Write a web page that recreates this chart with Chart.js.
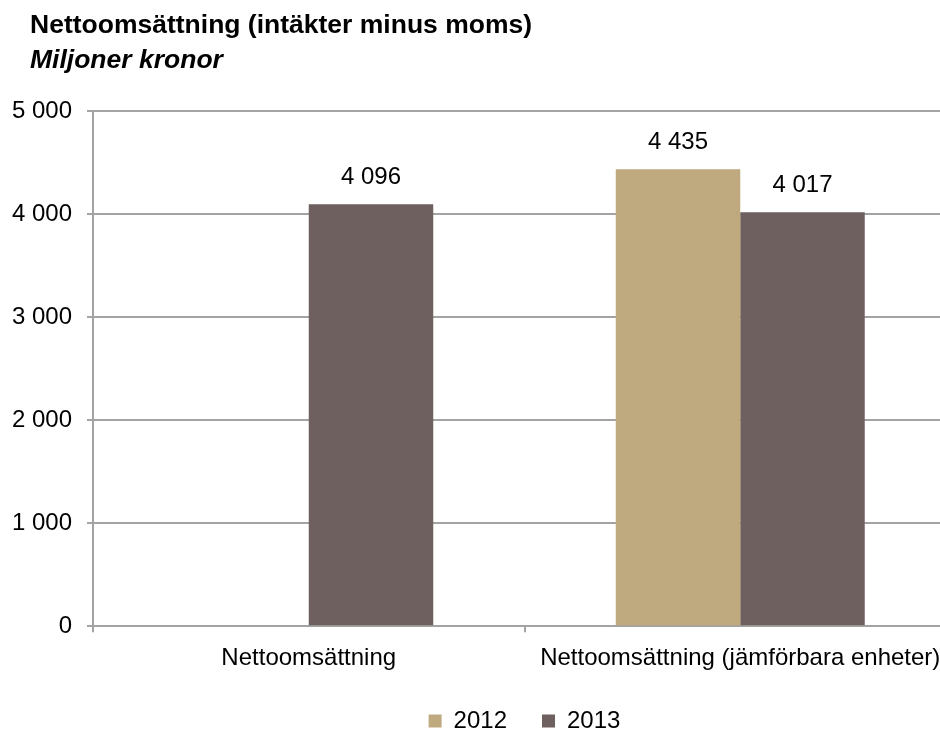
<!DOCTYPE html>
<html>
<head>
<meta charset="utf-8">
<script src="https://cdn.jsdelivr.net/npm/chart.js@4"></script>
<style>
  body { margin: 0; overflow: hidden; background: #fff; font-family: "Liberation Sans", Arial, sans-serif; }
  #titles { position: absolute; left: 30px; top: 7px; font-size: 26.5px; font-weight: bold; line-height: 35px; color: #000; z-index: 2; }
  #titles .sub { font-style: italic; }
  #wrap { position: absolute; left: 0; top: 0; width: 956px; height: 747px; }
</style>
</head>
<body>
<div id="titles">
  <div>Nettoomsättning (intäkter minus moms)</div>
  <div class="sub">Miljoner kronor</div>
</div>
<div id="wrap"><canvas id="chart"></canvas></div>
<script>
var categories = ["Nettoomsättning", "Nettoomsättning (jämförbara enheter)"];
var years = ["2012", "2013"];
var values2012 = [null, 4435];
var values2013 = [4096, 4017];
var yTicks = [0, 1000, 2000, 3000, 4000, 5000];

var col2012 = "#BFA97E";
var col2013 = "#6E605F";
var gridCol = "#A3A3A3";

// svensk tusentalsavgränsare: mellanslag
function fmt(v) {
    return String(v).replace(/\B(?=(\d{3})+(?!\d))/g, " ");
}

var valueLabels = {
    id: "valueLabels",
    afterDatasetsDraw: function(chart) {
        var ctx = chart.ctx;
        ctx.save();
        ctx.font = "24px 'Liberation Sans', Arial, sans-serif";
        ctx.fillStyle = "#000";
        ctx.textAlign = "center";
        ctx.textBaseline = "middle";
        chart.data.datasets.forEach(function(ds, i) {
            chart.getDatasetMeta(i).data.forEach(function(bar, j) {
                var v = ds.data[j];
                if (v == null) return;
                ctx.fillText(fmt(v), bar.x, bar.y - 27);
            });
        });
        ctx.restore();
    }
};

// legend centered under the plot area, not the whole canvas
var legendShift = {
    id: "legendShift",
    afterLayout: function(chart) {
        var lg = chart.legend, ca = chart.chartArea;
        var d = (ca.left + ca.right) / 2 - (lg.left + lg.right) / 2;
        lg.left += d;
        lg.right += d;
    }
};

Chart.defaults.font.family = "'Liberation Sans', Arial, sans-serif";
Chart.defaults.font.size = 24;
Chart.defaults.color = "#000";

new Chart(document.getElementById("chart"), {
    type: "bar",
    data: {
        labels: categories,
        datasets: [
            { label: years[0], data: values2012, backgroundColor: col2012 },
            { label: years[1], data: values2013, backgroundColor: col2013 }
        ]
    },
    options: {
        responsive: true,
        maintainAspectRatio: false,
        animation: false,
        layout: { padding: { top: 111, left: 12, right: 0, bottom: 4 } },
        datasets: { bar: { categoryPercentage: 0.577, barPercentage: 1 } },
        plugins: {
            legend: {
                position: "bottom",
                labels: { boxWidth: 13, boxHeight: 13, padding: 35, font: { size: 24 } }
            },
            tooltip: { enabled: false }
        },
        scales: {
            x: {
                grid: { drawOnChartArea: false, drawTicks: true, tickLength: 6, color: gridCol, lineWidth: 2, offset: true },
                border: { color: gridCol, width: 2 },
                ticks: { padding: 12, maxRotation: 0 },
                afterFit: function(axis) { axis.height -= 11; }
            },
            y: {
                min: 0,
                max: 5000,
                afterBuildTicks: function(axis) {
                    axis.ticks = yTicks.map(function(v) { return { value: v }; });
                },
                afterFit: function(axis) { axis.width = 81; },
                grid: { color: gridCol, lineWidth: 2, tickLength: 6 },
                border: { color: gridCol, width: 2 },
                ticks: { padding: 15, callback: function(v) { return fmt(v); } }
            }
        }
    },
    plugins: [valueLabels, legendShift]
});
</script>
</body>
</html>
